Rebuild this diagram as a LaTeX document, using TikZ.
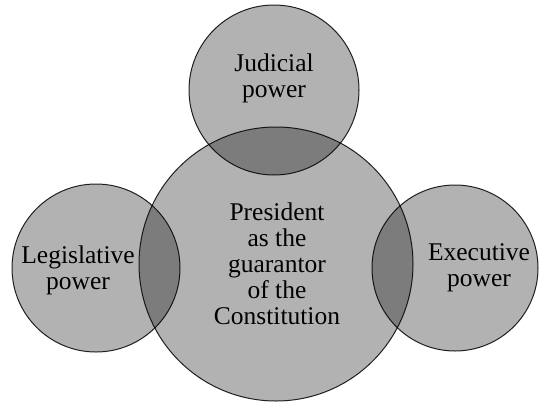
\documentclass[tikz,border=0pt]{standalone}
\usepackage{fontspec}
\setmainfont{Liberation Serif}
\usetikzlibrary{positioning}
\tikzset{power/.style={circle,fill=black,fill opacity=0.3,draw=black,draw opacity=0.85,line width=1pt,inner sep=0pt},
  powertext/.style={align=center,text=black,font=\fontsize{25.5}{26}\selectfont}}

\begin{document}
\begin{tikzpicture}[x=1pt,y=-1pt]
\useasboundingbox (0,0) rectangle (540,402);
\node[power,minimum size=274pt] (president) at (276,264) {};
\node[power,minimum size=170pt] (judicial) at (274,90) {};
\node[power,minimum size=168pt] (legislative) at (96,268) {};
\node[power,minimum size=166pt] (executive) at (455,268) {};
\node[powertext] (presidenttext) at ([xshift=1pt]president.center) {President\\as the\\guarantor\\of the\\Constitution};
\node[powertext] (judicialtext) at ([yshift=12pt]judicial.center) {Judicial\\power};
\node[powertext] (legislativetext) at ([xshift=-18pt,yshift=-2pt]legislative.center) {Legislative\\power};
\node[powertext] (executivetext) at ([xshift=24pt]executive.center) {Executive\\power};
\end{tikzpicture}
\end{document}
